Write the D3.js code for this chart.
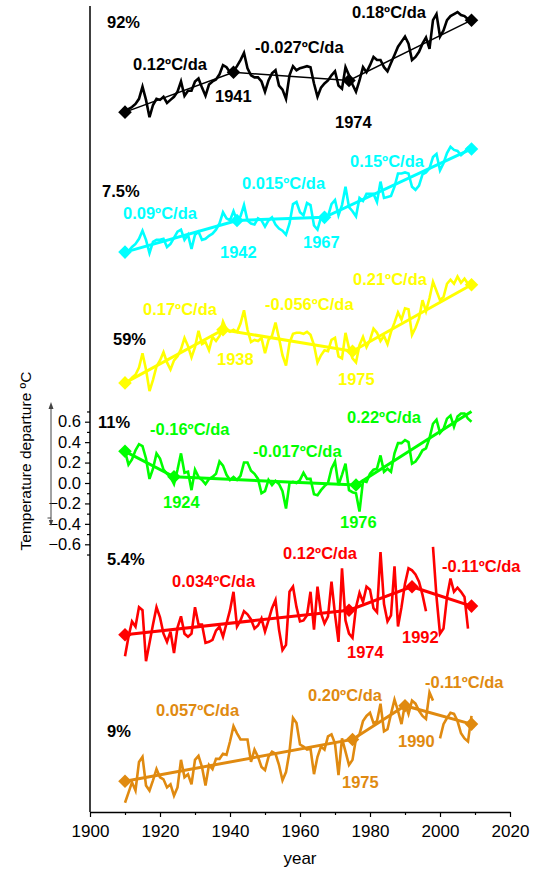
<!DOCTYPE html>
<html><head><meta charset="utf-8">
<script src="https://cdn.jsdelivr.net/npm/d3@7"></script>
<style>body{margin:0;background:#fff}svg{display:block}</style>
</head><body>
<svg id="c" width="535" height="869"></svg>
<script>
// ---------------- DATA ----------------
const years = d3.range(1910, 2010);
const xTicks = [1900, 1920, 1940, 1960, 1980, 2000, 2020];
const xMinorTicks = [1910, 1930, 1950, 1970, 1990, 2010];
const yTicks = [-0.6, -0.4, -0.2, 0.0, 0.2, 0.4, 0.6];
const yMinorTicks = [-0.7, -0.5, -0.3, -0.1, 0.1, 0.3, 0.5, 0.7];

const blackVals = [
 -0.27,-0.24,-0.22,-0.19,-0.14,-0.02,-0.15,-0.32,-0.20,-0.14,
 -0.15,-0.12,-0.18,-0.15,-0.12,-0.07,0.03,-0.11,-0.06,-0.06,
 0.03,0.06,-0.03,-0.11,0.00,0.03,0.05,0.10,0.19,0.17,
 0.12,0.13,0.18,0.24,0.31,0.16,0.09,0.07,0.07,0.03,
 -0.07,0.04,0.11,0.14,-0.01,-0.05,-0.14,0.09,0.18,0.14,
 0.16,0.17,0.18,0.17,0.01,-0.12,-0.03,0.01,0.04,0.09,
 0.13,-0.01,-0.04,0.17,0.09,0.00,-0.07,0.04,0.17,0.12,
 0.19,0.27,0.24,0.24,0.17,0.13,0.21,0.29,0.37,0.42,
 0.47,0.40,0.24,0.27,0.32,0.40,0.46,0.35,0.63,0.69,
 0.47,0.53,0.63,0.67,0.69,0.71,0.68,0.67,0.64,0.60];
const cyanVals = [
 -0.27,-0.26,-0.22,-0.19,-0.14,-0.06,-0.15,-0.28,-0.17,-0.15,
 -0.15,-0.14,-0.22,-0.19,-0.13,-0.07,-0.05,-0.15,-0.10,-0.24,
 -0.10,-0.07,-0.15,-0.14,-0.11,-0.09,-0.05,0.01,0.12,0.06,
 0.04,0.13,0.04,0.08,0.19,0.04,0.01,0.00,0.06,0.04,
 -0.02,0.04,0.07,0.00,-0.04,-0.06,-0.10,0.01,0.20,0.22,
 0.12,0.09,0.21,0.19,-0.01,-0.05,0.07,0.09,0.08,0.20,
 0.24,0.09,0.19,0.37,0.17,0.13,0.08,0.26,0.23,0.30,
 0.30,0.30,0.22,0.42,0.26,0.27,0.28,0.37,0.50,0.50,
 0.51,0.50,0.37,0.34,0.38,0.49,0.51,0.55,0.66,0.69,
 0.53,0.60,0.70,0.76,0.73,0.72,0.68,0.71,0.75,0.73];
const yellowVals = [
 -0.28,-0.27,-0.23,-0.20,-0.13,0.01,-0.15,-0.36,-0.25,-0.12,
 -0.06,0.02,-0.08,-0.15,-0.06,-0.02,0.05,0.16,0.08,-0.03,
 0.07,0.23,0.10,0.12,0.04,0.17,0.13,0.18,0.32,0.24,
 0.22,0.24,0.22,0.30,0.43,0.24,0.12,0.14,0.13,0.16,
 0.01,0.14,0.18,0.31,0.16,-0.01,-0.11,0.11,0.20,0.21,
 0.21,0.20,0.22,0.19,0.09,-0.08,-0.01,0.04,0.03,0.14,
 0.16,-0.02,-0.04,0.21,0.06,-0.04,-0.08,0.09,0.17,0.07,
 0.14,0.25,0.21,0.13,0.18,0.10,0.22,0.31,0.41,0.34,
 0.45,0.44,0.19,0.26,0.35,0.53,0.42,0.55,0.71,0.62,
 0.53,0.56,0.69,0.73,0.69,0.76,0.70,0.74,0.69,0.68];
const greenVals = [
 0.31,0.18,0.23,0.32,0.38,0.36,0.24,0.04,0.14,0.29,
 0.24,0.13,0.09,0.06,-0.01,0.13,0.29,0.10,0.11,-0.07,
 0.13,0.06,0.03,-0.01,0.04,0.06,0.09,0.21,0.17,0.08,
 0.03,0.06,0.03,0.07,0.20,0.20,0.12,0.09,0.04,-0.10,
 -0.08,0.03,-0.02,0.02,-0.01,-0.08,-0.25,0.00,0.01,0.00,
 0.03,0.10,0.04,0.04,-0.11,-0.12,-0.07,-0.03,0.00,0.14,
 0.21,-0.02,0.08,0.19,-0.07,-0.09,-0.10,-0.28,0.02,0.01,
 0.09,0.13,0.14,0.27,0.11,0.14,0.11,0.29,0.39,0.39,
 0.42,0.40,0.19,0.21,0.26,0.32,0.34,0.44,0.58,0.62,
 0.49,0.53,0.63,0.66,0.55,0.65,0.68,0.68,0.63,0.60];
const redVals = [
 -0.41,-0.22,-0.07,-0.12,0.07,0.04,-0.46,-0.28,-0.10,0.07,
 -0.03,-0.19,-0.27,-0.17,-0.38,-0.13,-0.02,-0.19,-0.22,-0.19,
 0.07,-0.10,-0.10,-0.28,-0.27,-0.25,-0.16,-0.12,-0.22,-0.09,
 0.04,0.22,-0.12,-0.06,0.03,0.00,-0.05,-0.14,-0.11,-0.04,
 -0.17,-0.06,0.06,0.14,-0.15,-0.35,-0.30,0.22,0.27,0.07,
 -0.07,-0.06,-0.01,0.22,-0.15,0.27,0.01,-0.09,-0.02,0.32,
 0.00,-0.27,0.45,-0.06,-0.19,-0.23,0.07,0.21,0.12,0.27,
 0.24,0.06,0.02,0.61,0.10,-0.07,-0.01,0.47,-0.12,0.07,
 0.30,0.45,0.43,0.39,0.32,0.19,0.03,null,0.66,0.17,
 -0.19,-0.14,0.17,0.35,0.22,0.26,0.22,0.17,-0.14,null];
const orangeVals = [
 -0.53,-0.43,-0.33,-0.41,-0.13,-0.08,-0.36,-0.41,-0.31,-0.20,
 -0.28,-0.30,-0.38,-0.35,-0.46,-0.38,-0.11,-0.28,-0.25,-0.35,
 -0.11,-0.07,-0.18,-0.36,-0.16,-0.20,-0.10,-0.10,-0.05,-0.06,
 0.07,0.22,0.15,0.09,0.09,0.09,-0.13,-0.01,-0.08,-0.18,
 -0.21,-0.08,-0.03,-0.05,-0.16,-0.31,-0.23,-0.03,0.30,0.25,
 0.04,0.02,-0.01,0.00,-0.25,-0.08,0.02,-0.01,0.12,0.14,
 0.05,-0.26,0.10,-0.03,-0.16,-0.11,0.10,0.14,0.27,0.32,
 0.35,0.25,0.27,0.44,0.17,0.19,0.34,0.48,0.37,0.24,
 0.44,0.34,0.47,0.44,0.37,0.32,0.29,0.55,0.47,null,
 0.10,0.24,0.30,0.35,0.34,0.27,0.15,0.10,0.07,0.32];

const seriesValues = [blackVals, cyanVals, yellowVals, greenVals, redVals, orangeVals];
const seriesOffsets = [3.90, 2.53, 1.26, 0, -1.285, -2.6];
const seriesColors = ["#000000", "#00ffff", "#ffff00", "#00ff00", "#ff0000", "#e08a10"];
const percentLabels = ["92%", "7.5%", "59%", "11%", "5.4%", "9%"];

const breakYears = [
 [1910, 1941, 1974, 2009], [1910, 1942, 1967, 2009], [1910, 1938, 1975, 2009],
 [1910, 1924, 1976, 2009], [1910, 1974, 1992, 2009], [1910, 1975, 1990, 2009]];
const breakVals = [
 [-0.27, 0.12, 0.04, 0.63], [-0.27, 0.04, 0.07, 0.74], [-0.28, 0.24, 0.03, 0.68],
 [0.31, 0.06, -0.02, 0.70], [-0.20, 0.04, 0.27, 0.08], [-0.32, 0.09, 0.42, 0.24]];
const breakMarked = [
 [1,1,1,1],[1,1,1,1],[1,1,1,1],[1,1,1,0],[1,1,1,1],[1,1,1,1]];
const slopeTexts = [
 ["0.12ºC/da", "-0.027ºC/da", "0.18ºC/da"],
 ["0.09ºC/da", "0.015ºC/da", "0.15ºC/da"],
 ["0.17ºC/da", "-0.056ºC/da", "0.21ºC/da"],
 ["-0.16ºC/da", "-0.017ºC/da", "0.22ºC/da"],
 ["0.034ºC/da", "0.12ºC/da", "-0.11ºC/da"],
 ["0.057ºC/da", "0.20ºC/da", "-0.11ºC/da"]];

// ---------------- LAYOUT (pixels) ----------------
const percentPos = [[107,28],[102,197],[113,345],[98,428],[107,565],[107,737]];
const slopePos = [
 [[133,70],[255,53],[352,18]],
 [[123,219],[242,189],[350,167]],
 [[143,315],[265,310],[353,285]],
 [[150,435],[253,457],[347,423]],
 [[172,587],[283,559],[442,572]],
 [[156,716],[308,701],[425,688]]];
const yearLabelPos = [
 [[215,102],[335,128]],
 [[220,258],[303,248]],
 [[217,365],[338,385]],
 [[163,508],[340,528]],
 [[347,658],[402,643]],
 [[342,788],[398,747]]];

// ---------------- DRAW ----------------
const svg = d3.select("#c");
const FONT = "'Liberation Sans', Arial, Helvetica, sans-serif";
const x = d3.scaleLinear().domain([1900, 2020]).range([90, 510]);
const y = d3.scaleLinear().domain([-0.6, 0.6]).range([544.3, 421.7]);
const axisY0 = 812, axisTop = 6;

// axes
svg.append("line").attr("x1", x(1900)).attr("x2", x(1900)).attr("y1", axisTop).attr("y2", axisY0)
  .attr("stroke", "#000").attr("stroke-width", 1.5);

const xg = svg.append("g").attr("transform", `translate(0,${axisY0})`);
xg.call(d3.axisBottom(x).tickValues(xTicks).tickSize(5).tickSizeOuter(0).tickPadding(8).tickFormat(d3.format("d")));
xg.append("g").call(d3.axisBottom(x).tickValues(xMinorTicks).tickSize(3).tickFormat(""))
  .select(".domain").remove();
xg.selectAll(".domain").attr("stroke-width", 1.5);
xg.selectAll("line").attr("stroke-width", 1.2);
xg.selectAll("text").attr("font-family", FONT).attr("font-size", 17).attr("fill", "#000");

const yg = svg.append("g").attr("transform", `translate(${x(1900)},0)`);
yg.call(d3.axisLeft(y).tickValues(yTicks).tickSize(5).tickPadding(4).tickFormat(d3.format(".1f")));
yg.append("g").call(d3.axisLeft(y).tickValues(yMinorTicks).tickSize(3).tickFormat(""));
yg.selectAll(".domain").remove();
yg.selectAll("line").attr("stroke-width", 1.2);
yg.selectAll("text").attr("font-family", FONT).attr("font-size", 16.5).attr("fill", "#000");

// scale arrow
const arr = svg.append("g").attr("stroke", "#444").attr("fill", "#444");
arr.append("line").attr("x1", 51).attr("x2", 51).attr("y1", 406).attr("y2", 522).attr("stroke-width", 1);
arr.append("path").attr("d", "M51,402 L48.5,409 L53.5,409 Z").attr("stroke", "none");
arr.append("path").attr("d", "M51,526 L48.8,520 L53.2,520 Z").attr("stroke", "none");
arr.append("line").attr("x1", 47.5).attr("x2", 51).attr("y1", 518).attr("y2", 518).attr("stroke-width", 1);

// axis titles
svg.append("text").attr("transform", "translate(31,461) rotate(-90)").attr("text-anchor", "middle")
  .attr("font-family", FONT).attr("font-size", 15.5).attr("fill", "#000").text("Temperature departure ºC");
svg.append("text").attr("x", x(1960)).attr("y", 864).attr("text-anchor", "middle")
  .attr("font-family", FONT).attr("font-size", 17).attr("fill", "#000").text("year");

// series
seriesValues.forEach((vals, i) => {
  const off = seriesOffsets[i], col = seriesColors[i];
  const g = svg.append("g");
  const line = d3.line().defined(d => d[1] !== null)
    .x(d => x(d[0])).y(d => y(d[1] + off));
  g.append("path").datum(years.map((yr, k) => [yr, vals[k]]))
    .attr("d", line).attr("fill", "none").attr("stroke", col)
    .attr("stroke-width", 2.6).attr("stroke-linejoin", "miter").attr("stroke-miterlimit", 4);
  const pts = breakYears[i].map((yr, k) => [yr, breakVals[i][k]]);
  g.append("path").datum(pts).attr("d", line).attr("fill", "none").attr("stroke", col)
    .attr("stroke-width", i === 0 ? 1.5 : 3);
  g.selectAll(".mk").data(pts.filter((p, k) => breakMarked[i][k])).enter().append("path")
    .attr("d", d3.symbol(d3.symbolSquare, 92)())
    .attr("transform", d => `translate(${x(d[0])},${y(d[1] + off)}) rotate(45)`)
    .attr("fill", col);

  const tg = svg.append("g").attr("font-family", FONT).attr("font-weight", "bold").attr("font-size", 16.5);
  tg.append("text").attr("x", percentPos[i][0]).attr("y", percentPos[i][1]).attr("fill", "#000").text(percentLabels[i]);
  slopeTexts[i].forEach((t, k) => {
    tg.append("text").attr("x", slopePos[i][k][0]).attr("y", slopePos[i][k][1]).attr("fill", col).text(t);
  });
  [breakYears[i][1], breakYears[i][2]].forEach((yr, k) => {
    tg.append("text").attr("x", yearLabelPos[i][k][0]).attr("y", yearLabelPos[i][k][1]).attr("fill", col).text(yr);
  });
});
</script>
</body></html>
